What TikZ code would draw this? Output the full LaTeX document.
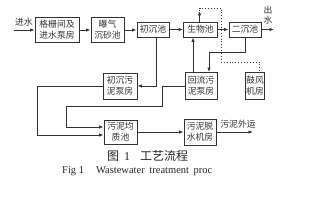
\documentclass[tikz,border=0pt]{standalone}
\usepackage{fontspec}
\setmainfont{Liberation Serif}
\newfontfamily\cjk{Noto Sans CJK SC}
\usetikzlibrary{arrows.meta,calc}
\definecolor{ink}{HTML}{333333}
\tikzset{
  box/.style={draw=ink, line width=0.9pt, fill=white, inner sep=0pt, align=center,
    font=\cjk\fontsize{8.8}{11}\selectfont, text=ink},
  arr/.style={draw=ink, line width=0.9pt, -{Latex[length=4.5pt,width=3.5pt]}},
  dot/.style={draw=ink, line width=0.9pt, dotted},
  lbl/.style={inner sep=0pt, font=\cjk\fontsize{8.8}{10}\selectfont, text=ink, align=center}
}
\begin{document}
\begin{tikzpicture}[x=1pt,y=-1pt]
\useasboundingbox[fill=white] (0,0) rectangle (326,200);
% boxes
\node[box, minimum width=44pt, minimum height=25pt] (A) at (57,30) {格栅间及\\进水泵房};
\node[box, minimum width=33pt, minimum height=25pt] (B) at (107.5,30) {曝气\\沉砂池};
\node[box, minimum width=32pt, minimum height=15pt] (C) at (153,29.5) {初沉池};
\node[box, minimum width=34pt, minimum height=15pt] (Bio) at (200.5,29.5) {生物池};
\node[box, minimum width=32pt, minimum height=15pt] (Er) at (245,29.5) {二沉池};
\node[box, minimum width=34pt, minimum height=26pt] (D) at (120,86) {初沉污\\泥泵房};
\node[box, minimum width=32pt, minimum height=27pt] (E) at (201,86) {回流污\\泥泵房};
\node[box, minimum width=19pt, minimum height=27pt] (F) at (255,86) {鼓风\\机房};
\node[box, minimum width=33pt, minimum height=24pt] (G) at (120.5,132) {污泥均\\质池};
\node[box, minimum width=32pt, minimum height=26pt] (H) at (200,132) {污泥脱\\水机房};
% labels
\node[lbl] (inl) at (24,22) {进水};
\node[lbl, font=\cjk\fontsize{8.8}{10}\selectfont] (outl) at (268,15) {出\\水};
\node[lbl] (sludge) at (238,124) {污泥外运};
\coordinate (inc) at (14,30);
\coordinate (outc) at (274,29.5);
\coordinate (sludgec) at (253,132);
% main line
\draw[arr] (inc) -- (A.west);
\draw[arr] (A.east) -- (B.west);
\draw[arr] (B.east) -- (B.east -| C.west);
\draw[arr] (C) -- (Bio);
\draw[arr] (Bio) -- (Er);
\draw[arr] (Er.east) -- (outc);
% primary sludge
\draw[arr] ($(C.south)+(3.5,0)$) |- (D.east);
% secondary clarifier to return sludge
\draw[arr] (Er.south) -- ++(0,15) -| ($(E.north)+(8,0)$);
\draw[arr] ($(E.north)+(-8,0)$) -- ($(Bio.south)+(-7.5,0)$);
% air
\coordinate (a1) at (199.5,11);
\coordinate (a2) at (199.5,8);
\coordinate (a3) at (221,8);
\coordinate (a4) at (221,62);
\coordinate (a5) at (259,62);
\draw[arr] ($(Bio.north)+(-1,0)$) -- (a1);
\draw[dot] (a1) -- (a2) -- (a3) -- (a4) -- (a5) -- ($(F.north)+(4,0)$);
% return sludge pump to homogenizer
\coordinate (b1) at (162,86);
\coordinate (b2) at (162,106);
\coordinate (b3) at (66,106);
\coordinate (b4) at (66,127);
\draw[arr] (E.west) -- (b1) -- (b2) -- (b3) -- (b4) -- ($(G.west)+(0,-5)$);
% primary sludge pump to homogenizer
\coordinate (c1) at (37,86);
\coordinate (c2) at (37,135);
\draw[arr] (D.west) -- (c1) -- (c2) -- ($(G.west)+(0,3)$);
\draw[arr] (G) -- (H);
\draw[arr] (H.east) -- (sludgec);
% captions
\node[inner sep=0pt, font=\cjk\fontsize{12}{14}\selectfont, text=black!85] (cap1) at (147.5,156) {图\hspace{5pt}{\rmfamily 1}\hspace{10pt}工艺流程};
\node[inner sep=0pt, font=\fontsize{10.5}{12}\selectfont, text=black!85, anchor=west] (cap2) at (62,171) {Fig 1\hspace{12pt}Wastewater\hspace{2pt} treatment\hspace{2pt} proc};
\end{tikzpicture}
\end{document}
